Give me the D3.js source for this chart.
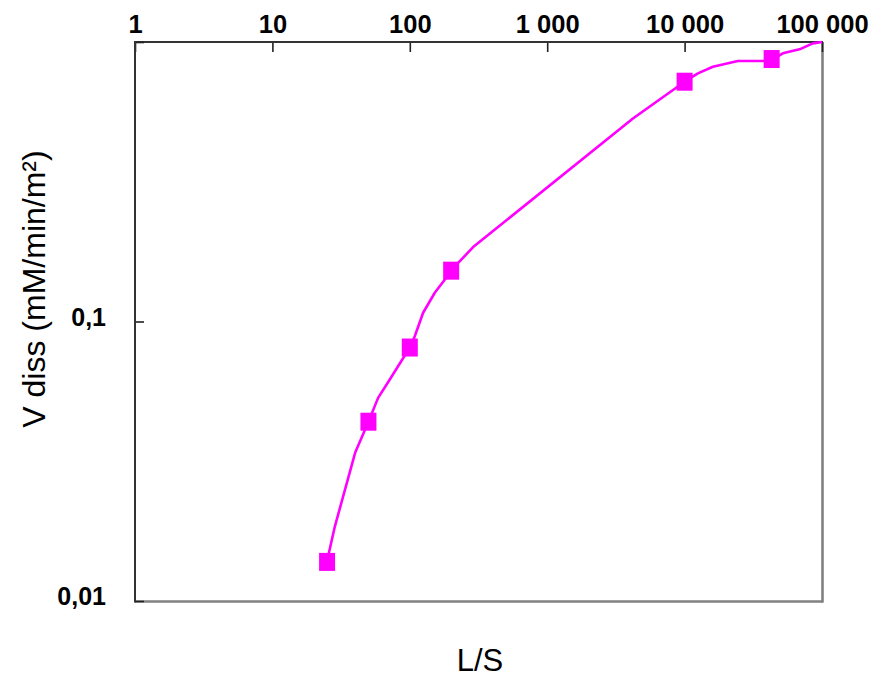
<!DOCTYPE html>
<html>
<head>
<meta charset="utf-8">
<script src="https://cdn.jsdelivr.net/npm/d3@7"></script>
<style>
  html, body { margin: 0; padding: 0; background: #fff; }
  svg { display: block; font-family: "Liberation Sans", Arial, sans-serif; }
</style>
</head>
<body>
<svg id="chart" width="870" height="677"></svg>
<script>
// ---- data ----
const xTickValues = [1, 10, 100, 1000, 10000, 100000];
const xTickLabels = ["1", "10", "100", "1 000", "10 000", "100 000"];
const yTickValues = [0.01, 0.1, 1];
const yTickLabels = ["0,01", "0,1", ""];

// measured points (markers)
const markerLS = [25, 50, 100, 200, 10000, 43000];
const markerV  = [0.0138, 0.0438, 0.0807, 0.152, 0.721, 0.869];

// smoothed curve vertices
const curveLS = [25, 28.5, 40, 50, 58.8, 71.5, 100, 108.7, 125, 152, 180, 203, 289, 4207, 10000, 12500, 16060, 24410, 37110, 43000, 51880, 68610, 85740, 100000];
const curveV  = [0.0139, 0.0185, 0.0339, 0.0438, 0.0533, 0.0620, 0.0807, 0.0886, 0.1075, 0.1267, 0.1414, 0.1536, 0.1846, 0.5326, 0.721, 0.772, 0.8156, 0.855, 0.855, 0.862, 0.911, 0.9415, 0.989, 1.0];

const xTitle = "L/S";
const yTitle = "V diss (mM/min/m²)";

// ---- layout ----
const L = 135, R = 822, T = 42, B = 601;
const svg = d3.select("#chart");

const x = d3.scaleLog().domain([1, 100000]).range([L, R]);
const y = d3.scaleLog().domain([0.01, 1]).range([B, T]);

// frame: bottom & right grey
svg.append("line").attr("x1", L).attr("x2", R + 1).attr("y1", B + 0.5).attr("y2", B + 0.5)
  .attr("stroke", "#808080").attr("stroke-width", 2.6);
svg.append("line").attr("x1", R + 0.5).attr("x2", R + 0.5).attr("y1", T).attr("y2", B + 1.5)
  .attr("stroke", "#808080").attr("stroke-width", 2.6);

// top axis
const gTop = svg.append("g").attr("transform", `translate(0,${T})`)
  .call(d3.axisTop(x).tickValues(xTickValues)
    .tickFormat((d, i) => xTickLabels[i]).tickSize(-10).tickPadding(9));
gTop.select(".domain").remove();
gTop.selectAll(".tick line").attr("stroke", "#222").attr("stroke-width", 1.6);
gTop.selectAll(".tick text").attr("font-size", 25.5).attr("font-weight", "bold")
  .attr("fill", "#000").attr("font-family", "Liberation Sans, Arial, sans-serif");
svg.append("line").attr("x1", L - 1).attr("x2", R + 1).attr("y1", T).attr("y2", T)
  .attr("stroke", "#333").attr("stroke-width", 1.8);

// left axis
const gLeft = svg.append("g").attr("transform", `translate(${L},0)`)
  .call(d3.axisLeft(y).tickValues(yTickValues)
    .tickFormat((d, i) => yTickLabels[i]).tickSize(-9).tickPadding(29));
gLeft.select(".domain").remove();
gLeft.selectAll(".tick line").attr("stroke", "#222").attr("stroke-width", 1.6);
gLeft.selectAll(".tick text").attr("font-size", 25).attr("font-weight", "bold")
  .attr("fill", "#000").attr("dy", "0.15em").attr("font-family", "Liberation Sans, Arial, sans-serif");
svg.append("line").attr("x1", L).attr("x2", L).attr("y1", T - 1).attr("y2", B + 1.5)
  .attr("stroke", "#333").attr("stroke-width", 2);

// curve
const line = d3.line().x(d => x(d[0])).y(d => y(d[1]));
const curveData = curveLS.map((v, i) => [v, curveV[i]]);
svg.append("path").datum(curveData).attr("d", line)
  .attr("fill", "none").attr("stroke", "#ff00ff").attr("stroke-width", 2.6)
  .attr("stroke-linejoin", "round");

// markers
const mw = 16, mh = 18;
svg.selectAll("rect.marker").data(markerLS.map((v, i) => [v, markerV[i]]))
  .enter().append("rect").attr("class", "marker")
  .attr("x", d => x(d[0]) - mw / 2).attr("y", d => y(d[1]) - mh / 2)
  .attr("width", mw).attr("height", mh).attr("fill", "#ff00ff");

// titles
svg.append("text").attr("x", 480).attr("y", 671).attr("text-anchor", "middle")
  .attr("font-size", 31).attr("fill", "#000").text(xTitle);
svg.append("text").attr("transform", "translate(45,289) rotate(-90)")
  .attr("text-anchor", "middle").attr("font-size", 32).attr("fill", "#000").text(yTitle);
</script>
</body>
</html>
